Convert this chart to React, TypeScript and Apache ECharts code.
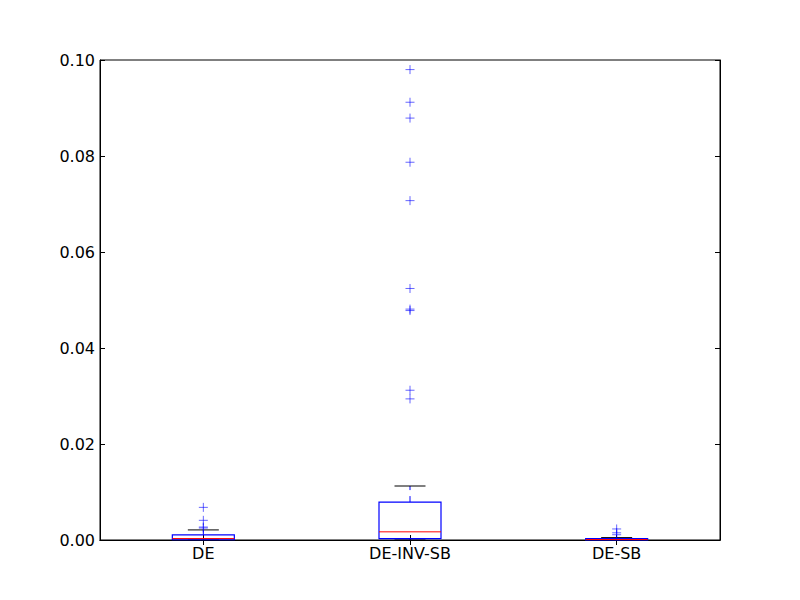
import React, { useEffect, useRef } from "react";
import * as echarts from "echarts";

const categories = ["DE", "DE-INV-SB", "DE-SB"];
// [min, q1, median, q3, max]
const boxStats = [
  [0.0, 0.00005, 0.0003, 0.00105, 0.0021],
  [0.0, 0.0003, 0.0017, 0.0079, 0.01125],
  [0.0, 0.00002, 0.0001, 0.0003, 0.0005],
];
const outliersDE = [0.0068, 0.0041, 0.0027, 0.0025];
const outliersDEINVSB = [0.098, 0.0912, 0.0879, 0.0787, 0.0707, 0.0524, 0.0481, 0.0478, 0.0312, 0.0294];
const outliersDESB = [0.0023, 0.0015, 0.0011];
const yTicks = [0, 0.02, 0.04, 0.06, 0.08, 0.1];

export default function App() {
  const ref = useRef<HTMLDivElement>(null);
  useEffect(() => {
    if (!ref.current) return;
    const chart = echarts.init(ref.current, undefined, { renderer: "svg" });
    const boxData = boxStats.map((s, i) => [i, ...s]);
    const outlierData: number[][] = [];
    [outliersDE, outliersDEINVSB, outliersDESB].forEach((arr, i) =>
      arr.forEach((v) => outlierData.push([i, v]))
    );
    const font = "DejaVu Sans";
    const axisLine = { show: true, lineStyle: { color: "#000", width: 1 } };
    const tick = { show: true, inside: true, length: 5, lineStyle: { color: "#000" } };
    chart.setOption({
      animation: false,
      backgroundColor: "#fff",
      grid: { left: 100, top: 60, width: 620, height: 480, show: true, borderColor: "#000", borderWidth: 1, backgroundColor: "transparent" },
      xAxis: [
        {
          type: "category",
          data: categories,
          position: "bottom",
          boundaryGap: true,
          axisLine,
          axisTick: { ...tick, alignWithLabel: true },
          axisLabel: { color: "#000", fontFamily: font, fontSize: 16, margin: 5 },
          splitLine: { show: false },
        },
        {
          type: "category",
          data: categories,
          position: "top",
          boundaryGap: true,
          axisLine,
          axisTick: { ...tick, alignWithLabel: true },
          axisLabel: { show: false },
          splitLine: { show: false },
        },
      ],
      yAxis: [
        {
          type: "value",
          min: yTicks[0],
          max: yTicks[yTicks.length - 1],
          interval: 0.02,
          position: "left",
          axisLine,
          axisTick: tick,
          axisLabel: { color: "#000", fontFamily: font, fontSize: 16, margin: 5, formatter: (v: number) => v.toFixed(2) },
          splitLine: { show: false },
        },
        {
          type: "value",
          min: yTicks[0],
          max: yTicks[yTicks.length - 1],
          interval: 0.02,
          position: "right",
          axisLine,
          axisTick: tick,
          axisLabel: { show: false },
          splitLine: { show: false },
        },
      ],
      series: [
        {
          type: "custom",
          xAxisIndex: 0,
          yAxisIndex: 0,
          data: boxData,
          encode: { x: 0, y: [1, 2, 3, 4, 5] },
          renderItem: (params: any, api: any) => {
            const idx = api.value(0);
            const [mn, q1, md, q3, mx] = [1, 2, 3, 4, 5].map((k) => api.value(k));
            const band = api.size([1, 0])[0];
            const bw = band * 0.3;
            const cw = bw / 2;
            const pMin = api.coord([idx, mn]);
            const pQ1 = api.coord([idx, q1]);
            const pMd = api.coord([idx, md]);
            const pQ3 = api.coord([idx, q3]);
            const pMx = api.coord([idx, mx]);
            const x = pMin[0];
            const blue = "#0000ff";
            return {
              type: "group",
              children: [
                { type: "line", shape: { x1: x, y1: pQ1[1], x2: x, y2: pMin[1] }, style: { stroke: blue, lineWidth: 1, lineDash: [6, 6] } },
                { type: "line", shape: { x1: x, y1: pQ3[1], x2: x, y2: pMx[1] }, style: { stroke: blue, lineWidth: 1, lineDash: [6, 6] } },
                { type: "line", shape: { x1: x - cw / 2, y1: pMin[1], x2: x + cw / 2, y2: pMin[1] }, style: { stroke: "#000", lineWidth: 1 } },
                { type: "line", shape: { x1: x - cw / 2, y1: pMx[1], x2: x + cw / 2, y2: pMx[1] }, style: { stroke: "#000", lineWidth: 1 } },
                { type: "rect", shape: { x: x - bw / 2, y: pQ3[1], width: bw, height: pQ1[1] - pQ3[1] }, style: { stroke: blue, fill: "none", lineWidth: 1.2 } },
                { type: "line", shape: { x1: x - bw / 2, y1: pMd[1], x2: x + bw / 2, y2: pMd[1] }, style: { stroke: "#ff0000", lineWidth: 1 } },
              ],
            };
          },
        },
        {
          type: "scatter",
          xAxisIndex: 0,
          yAxisIndex: 0,
          data: outlierData,
          symbol: "path://M5,0V10M0,5H10",
          symbolSize: 9,
          itemStyle: { color: "none", borderColor: "rgba(0,0,255,0.75)", borderWidth: 1 },
        },
      ],
    });
    return () => chart.dispose();
  }, []);
  return <div ref={ref} style={{ width: 800, height: 600, position: "absolute", left: 0, top: 0 }} />;
}
